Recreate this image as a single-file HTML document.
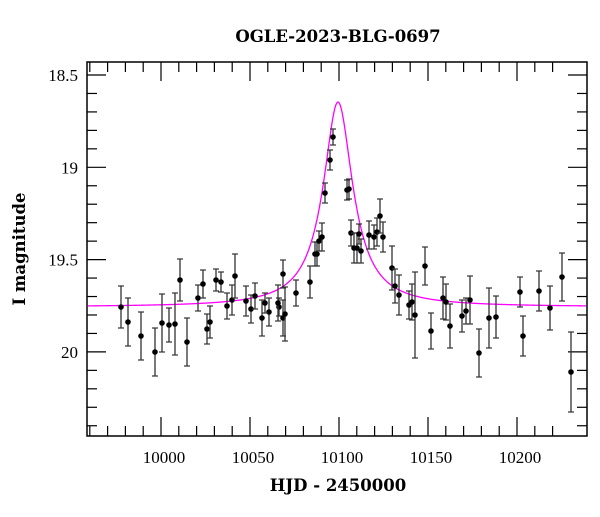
<!DOCTYPE html>
<html><head><meta charset="utf-8"><style>
body{margin:0;background:#fff;width:600px;height:512px;overflow:hidden}
svg text{font-family:"Liberation Serif",serif}
svg text.b{font-family:"DejaVu Serif","Liberation Serif",serif}
</style></head><body>
<svg id="s" width="600" height="512" xmlns="http://www.w3.org/2000/svg">
<rect width="600" height="512" fill="#fff"/>
<text class="b" x="338" y="42" font-size="16.5" font-weight="bold" text-anchor="middle">OGLE-2023-BLG-0697</text>
<text class="b" x="338" y="491" font-size="16.5" font-weight="bold" text-anchor="middle">HJD - 2450000</text>
<text class="b" transform="translate(25,249) rotate(-90)" font-size="16.5" font-weight="bold" text-anchor="middle">I magnitude</text>
<g id="ticks" stroke="#000" stroke-width="1.2"></g>
<g id="lbl" font-size="17"></g>
<path id="curve" fill="none" stroke="#ff00ff" stroke-width="1.3"/>
<g id="pts"></g>
<rect x="87" y="62" width="500" height="374" fill="none" stroke="#000" stroke-width="1.5"/>
</svg>
<script>
var NS="http://www.w3.org/2000/svg";
function el(p,t,a){var e=document.createElementNS(NS,t);for(var k in a)e.setAttribute(k,a[k]);p.appendChild(e);return e;}
var T=document.getElementById('ticks'),L=document.getElementById('lbl');
function X(d){return 161+(d-10000)*1.78;}
function Y(m){return 75+(m-18.5)*184.6;}
for(var d=9960;d<=10220;d+=10){var x=X(d),maj=d%50==0,l=maj?19:10;
el(T,'line',{x1:x,y1:436,x2:x,y2:436-l});el(T,'line',{x1:x,y1:62,x2:x,y2:62+l});
if(maj){var t=el(L,'text',{x:x+3,y:463,'text-anchor':'middle'});t.textContent=d;}}
for(var i=0;i<=19;i++){var m=18.5+i*0.1;var y=Y(m);if(y>436)break;var maj=i%5==0,l=maj?19:10;
el(T,'line',{x1:87,y1:y,x2:87+l,y2:y});el(T,'line',{x1:587,y1:y,x2:587-l,y2:y});
if(maj){var t=el(L,'text',{x:78,y:y+6,'text-anchor':'end'});t.textContent=(Math.round(m*10)/10).toString().replace(/\.0$/,'');}}
var ds="";for(var x=88;x<=586;x+=0.5){var dx=(x-338)/14;var f=1+1.78/(1+dx*dx);var y=307-2.5*Math.log10(f)*184.6;ds+=(ds?"L":"M")+x+","+y.toFixed(2);}
document.getElementById('curve').setAttribute('d',ds);
var P=[[121,307,21],[128,322,24],[141,336,24],[155,352,24],[162,323,29],[169,325,17],[175,324,31],[180,280,21],[187,342,24],[198,298,13],[203,284,14],[207,329,15],[210,322,16],[216,280,11],[221,282,10],[227,306,13],[232,300,15],[235,276,22],[246,301,15],[251,309,14],[255,296,13],[262,318,18],[269,312,14],[265,303,10],[279,307,9],[283,274,14],[278,303,18],[283,318,18],[285,314,27],[296,293,13],[310,282,16],[315,254,12],[317,254,12],[319,241,10],[322,237,14],[325,193,10],[330,160,10],[333,137,8],[347,190,10],[349,189,10],[351,233,13],[354,248,15],[357,248,15],[359,234,10],[361,251,12],[369,235,14],[374,237,12],[377,232,14],[380,216,17],[383,237,15],[392,268,22],[395,286,17],[399,295,20],[409,305,14],[412,302,18],[415,315,43],[425,266,19],[431,331,18],[443,298,21],[446,302,18],[450,326,22],[462,316,16],[466,311,13],[470,300,24],[479,353,24],[489,318,30],[496,317,21],[520,292,15],[523,336,20],[539,291,20],[550,308,22],[562,277,24],[571,372,40]];
var G=document.getElementById('pts');
P.forEach(function(p){var x=p[0],y=p[1],e=p[2];
el(G,'line',{x1:x,y1:y-e,x2:x,y2:y+e,stroke:'#333','stroke-width':1.3});
el(G,'line',{x1:x-3,y1:y-e,x2:x+3,y2:y-e,stroke:'#333','stroke-width':1.2});
el(G,'line',{x1:x-3,y1:y+e,x2:x+3,y2:y+e,stroke:'#333','stroke-width':1.2});
el(G,'circle',{cx:x,cy:y,r:2.8,fill:'#000'});});
</script>
</body></html>
